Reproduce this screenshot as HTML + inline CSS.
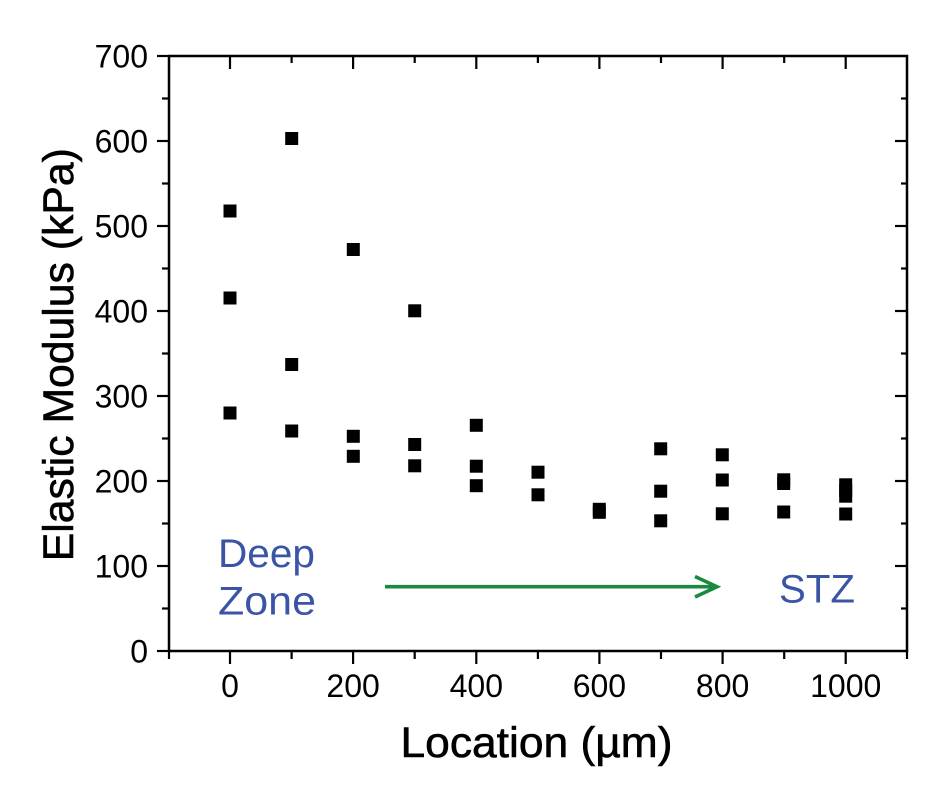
<!DOCTYPE html>
<html>
<head>
<meta charset="utf-8">
<style>
html,body{margin:0;padding:0;background:#fff;}
svg{display:block;}
text{font-family:"Liberation Sans",Arial,sans-serif;}
</style>
</head>
<body>
<svg width="950" height="803" viewBox="0 0 950 803" xmlns="http://www.w3.org/2000/svg">
<rect width="950" height="803" fill="#fff"/>
<rect x="169" y="56" width="738" height="595" fill="none" stroke="#000" stroke-width="2.5"/>
<g stroke="#000" stroke-width="2.2">
<line x1="157" y1="651" x2="169" y2="651"/>
<line x1="157" y1="566" x2="169" y2="566"/>
<line x1="157" y1="481" x2="169" y2="481"/>
<line x1="157" y1="396" x2="169" y2="396"/>
<line x1="157" y1="311" x2="169" y2="311"/>
<line x1="157" y1="226" x2="169" y2="226"/>
<line x1="157" y1="141" x2="169" y2="141"/>
<line x1="157" y1="56" x2="169" y2="56"/>
<line x1="162" y1="608.5" x2="169" y2="608.5"/>
<line x1="162" y1="523.5" x2="169" y2="523.5"/>
<line x1="162" y1="438.5" x2="169" y2="438.5"/>
<line x1="162" y1="353.5" x2="169" y2="353.5"/>
<line x1="162" y1="268.5" x2="169" y2="268.5"/>
<line x1="162" y1="183.5" x2="169" y2="183.5"/>
<line x1="162" y1="98.5" x2="169" y2="98.5"/>
<line x1="895" y1="566" x2="907" y2="566"/>
<line x1="895" y1="481" x2="907" y2="481"/>
<line x1="895" y1="396" x2="907" y2="396"/>
<line x1="895" y1="311" x2="907" y2="311"/>
<line x1="895" y1="226" x2="907" y2="226"/>
<line x1="895" y1="141" x2="907" y2="141"/>
<line x1="901" y1="608.5" x2="907" y2="608.5"/>
<line x1="901" y1="523.5" x2="907" y2="523.5"/>
<line x1="901" y1="438.5" x2="907" y2="438.5"/>
<line x1="901" y1="353.5" x2="907" y2="353.5"/>
<line x1="901" y1="268.5" x2="907" y2="268.5"/>
<line x1="901" y1="183.5" x2="907" y2="183.5"/>
<line x1="901" y1="98.5" x2="907" y2="98.5"/>
<line x1="230" y1="651" x2="230" y2="664"/>
<line x1="353.1" y1="651" x2="353.1" y2="664"/>
<line x1="476.3" y1="651" x2="476.3" y2="664"/>
<line x1="599.4" y1="651" x2="599.4" y2="664"/>
<line x1="722.6" y1="651" x2="722.6" y2="664"/>
<line x1="845.7" y1="651" x2="845.7" y2="664"/>
<line x1="169" y1="651" x2="169" y2="659"/>
<line x1="291.6" y1="651" x2="291.6" y2="659"/>
<line x1="414.7" y1="651" x2="414.7" y2="659"/>
<line x1="537.9" y1="651" x2="537.9" y2="659"/>
<line x1="661" y1="651" x2="661" y2="659"/>
<line x1="784.2" y1="651" x2="784.2" y2="659"/>
<line x1="907" y1="651" x2="907" y2="659"/>
<line x1="230" y1="56" x2="230" y2="69"/>
<line x1="353.1" y1="56" x2="353.1" y2="69"/>
<line x1="476.3" y1="56" x2="476.3" y2="69"/>
<line x1="599.4" y1="56" x2="599.4" y2="69"/>
<line x1="722.6" y1="56" x2="722.6" y2="69"/>
<line x1="845.7" y1="56" x2="845.7" y2="69"/>
<line x1="291.6" y1="56" x2="291.6" y2="63"/>
<line x1="414.7" y1="56" x2="414.7" y2="63"/>
<line x1="537.9" y1="56" x2="537.9" y2="63"/>
<line x1="661" y1="56" x2="661" y2="63"/>
<line x1="784.2" y1="56" x2="784.2" y2="63"/>
</g>
<g font-size="32" text-anchor="end" fill="#000">
<text x="148" y="662.5">0</text>
<text x="148" y="577.5">100</text>
<text x="148" y="492.5">200</text>
<text x="148" y="407.5">300</text>
<text x="148" y="322.5">400</text>
<text x="148" y="237.5">500</text>
<text x="148" y="152.5">600</text>
<text x="148" y="67.5">700</text>
</g>
<g font-size="32" text-anchor="middle" fill="#000">
<text x="230" y="697">0</text>
<text x="353.1" y="697">200</text>
<text x="476.3" y="697">400</text>
<text x="599.4" y="697">600</text>
<text x="722.6" y="697">800</text>
<text x="845.7" y="697">1000</text>
</g>
<g fill="#000" stroke="#000" stroke-width="0.6">
<text x="536.5" y="757" font-size="43" text-anchor="middle" textLength="272" lengthAdjust="spacingAndGlyphs">Location (µm)</text>
<text transform="translate(73,354.7) rotate(-90)" font-size="43" text-anchor="middle" textLength="413" lengthAdjust="spacingAndGlyphs">Elastic Modulus (kPa)</text>
</g>
<g fill="#3a55a6" font-size="40">
<text x="218" y="567" textLength="97" lengthAdjust="spacingAndGlyphs">Deep</text>
<text x="218" y="614.5" textLength="98" lengthAdjust="spacingAndGlyphs">Zone</text>
<text x="779" y="602.5" textLength="76" lengthAdjust="spacingAndGlyphs">STZ</text>
</g>
<g stroke="#1b8a3e" stroke-width="3.6" fill="none">
<line x1="385" y1="586.7" x2="716" y2="586.7"/>
<polyline points="695,576.5 717,586.7 695,597"/>
</g>
<g fill="#000">
<rect x="223.5" y="204.5" width="13" height="13"/>
<rect x="223.5" y="291.5" width="13" height="13"/>
<rect x="223.5" y="406.5" width="13" height="13"/>
<rect x="285.2" y="132" width="13" height="13"/>
<rect x="285.2" y="358" width="13" height="13"/>
<rect x="285.2" y="424.5" width="13" height="13"/>
<rect x="346.8" y="243" width="13" height="13"/>
<rect x="346.8" y="429.8" width="13" height="13"/>
<rect x="346.8" y="449.8" width="13" height="13"/>
<rect x="408.2" y="304.3" width="13" height="13"/>
<rect x="408.2" y="438" width="13" height="13"/>
<rect x="408.2" y="459.3" width="13" height="13"/>
<rect x="469.8" y="418.8" width="13" height="13"/>
<rect x="469.8" y="459.7" width="13" height="13"/>
<rect x="469.8" y="479.2" width="13" height="13"/>
<rect x="531.5" y="465.7" width="13" height="13"/>
<rect x="531.5" y="488.3" width="13" height="13"/>
<rect x="592.8" y="502.8" width="13" height="13"/>
<rect x="592.8" y="505.8" width="13" height="13"/>
<rect x="654.2" y="442.3" width="13" height="13"/>
<rect x="654.2" y="484.7" width="13" height="13"/>
<rect x="654.2" y="514.3" width="13" height="13"/>
<rect x="715.8" y="448.3" width="13" height="13"/>
<rect x="715.8" y="473.5" width="13" height="13"/>
<rect x="715.8" y="507.3" width="13" height="13"/>
<rect x="777.2" y="473.3" width="13" height="13"/>
<rect x="777.2" y="477" width="13" height="13"/>
<rect x="777.2" y="505.5" width="13" height="13"/>
<rect x="839.2" y="478.3" width="13" height="13"/>
<rect x="839.2" y="484" width="13" height="13"/>
<rect x="839.2" y="489.7" width="13" height="13"/>
<rect x="839.2" y="507.5" width="13" height="13"/>
</g>
</svg>
</body>
</html>
